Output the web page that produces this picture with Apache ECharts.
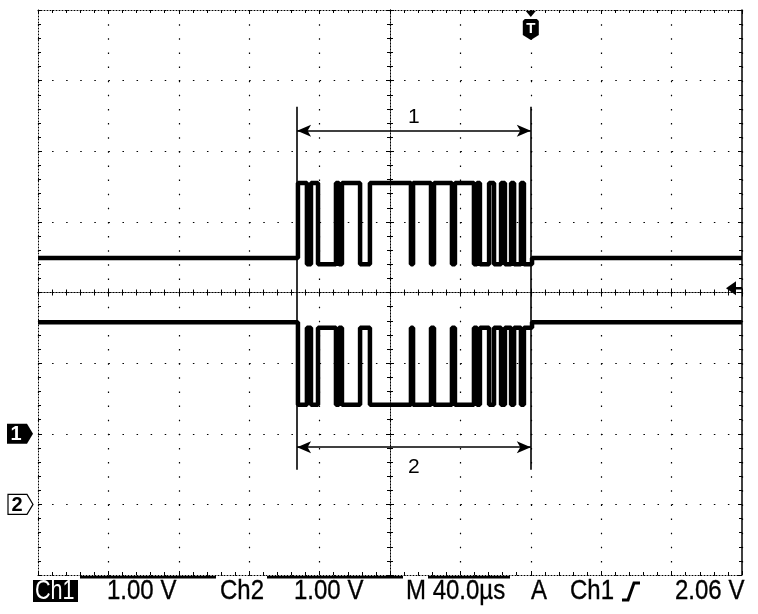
<!DOCTYPE html>
<html><head><meta charset="utf-8">
<script src="https://cdn.jsdelivr.net/npm/echarts@6/dist/echarts.min.js"></script>
<style>html,body{margin:0;padding:0;background:#fff}#c{width:758px;height:614px}</style>
</head><body><div id="c"></div>
<script>
// ---- data (time in µs relative to screen centre; trigger point sits at +80 µs) ----
const timeRange = [-200, 200];          // 10 div × 40 µs
const divRange = [-4, 4];               // 8 vertical divisions
const ch1GroundDiv = -2;                // position of Ch1 ground marker (div)
const ch2GroundDiv = -3;                // position of Ch2 ground marker (div)
const voltsPerDiv = [1.00, 1.00];       // Ch1, Ch2
const triggerTime = 80;                 // µs
const triggerLevel = 2.06;              // V on Ch1
// edge times of the data burst (Ch1 rises at the first edge; Ch2 is its complement)
const edgeTimes = [-52.3, -47.2, -44.9, -40.9, -30.7, -29.0, -27.3, -17.0, -11.4, 11.9,
                   13.1, 23.3, 25.0, 35.2, 36.9, 47.7, 49.4, 51.1, 56.3, 59.1,
                   63.1, 65.3, 68.8, 70.5, 74.4, 76.1];
const burstEnd = 80.7;
const ch1Levels = [2.49, 3.55, 2.40];   // idle, high, low (V)
const ch2Levels = [2.58, 2.50, 1.41];   // idle, high, low (V)
const cursorTimes = [-52.8, 80.0];      // cursor 1 / 2 (µs)
const cursorSpanDiv = [2.63, -2.51];
const arrowDiv = [2.29, -2.19];
const arrowLabels = ['1', '2'];
const readout = ['Ch1', '1.00 V', 'Ch2', '1.00 V', 'M 40.0µs', 'A', 'Ch1', '2.06 V'];

// ---- build traces ----
function trace(levels, ground, vpd, ch1Like) {
  const toDiv = v => v / vpd + ground;
  const pts = [[timeRange[0], toDiv(levels[0])]];
  let state = levels[0];
  edgeTimes.forEach((t, i) => {
    const next = (i % 2 === 0) ? (ch1Like ? levels[1] : levels[2]) : (ch1Like ? levels[2] : levels[1]);
    pts.push([t, toDiv(state)]); pts.push([t, toDiv(next)]); state = next;
  });
  pts.push([burstEnd, toDiv(state)]); pts.push([burstEnd, toDiv(levels[0])]);
  pts.push([timeRange[1], toDiv(levels[0])]);
  return pts;
}
const ch1Data = trace(ch1Levels, ch1GroundDiv, voltsPerDiv[0], true);
const ch2Data = trace(ch2Levels, ch2GroundDiv, voltsPerDiv[1], false);

const chart = echarts.init(document.getElementById('c'));
const BLACK = '#000';
function axis(kind, position, offset, opts) {
  const isX = kind === 'x';
  return {
    type: 'value', position: position, offset: offset,
    min: isX ? timeRange[0] : divRange[0], max: isX ? timeRange[1] : divRange[1],
    interval: isX ? 40 : 1,
    axisLine: { show: true, onZero: false, lineStyle: { color: BLACK, width: opts.lineWidth || 1, type: opts.lineType || [1, 2] } },
    axisTick: { show: true, inside: true, length: opts.tick || 4, lineStyle: { color: BLACK, width: 1 } },
    minorTick: { show: true, splitNumber: 5, length: opts.minor || 3, lineStyle: { color: BLACK, width: 1 } },
    axisLabel: { show: false },
    splitLine: opts.split ? { show: true, lineStyle: { color: BLACK, width: 1.2, type: opts.split } } : { show: false }
  };
}
const option = {
  animation: false,
  backgroundColor: '#fff',
  grid: { left: 38, top: 10, right: 16, bottom: 39 },
  xAxis: [
    axis('x', 'bottom', 0, { split: [1.5, 12.625] }),
    axis('x', 'top', 0, {}),
    axis('x', 'bottom', -282.5, { tick: 4, minor: 3 }),
    axis('x', 'top', -282.5, { tick: 4, minor: 3 })
  ],
  yAxis: [
    axis('y', 'left', 0, { split: [1.5, 12.58] }),
    axis('y', 'right', 0, { lineType: 'solid', lineWidth: 1.5 }),
    axis('y', 'left', -352, { tick: 4, minor: 3 }),
    axis('y', 'right', -352, { tick: 4, minor: 3 })
  ],
  series: [
    {
      name: 'Ch1', type: 'line', data: ch1Data, showSymbol: false, silent: true,
      lineStyle: { color: BLACK, width: 4.5 },
      markLine: {
        silent: true, symbol: 'none', animation: false,
        lineStyle: { color: BLACK, width: 1.6, type: 'solid' },
        label: { show: false },
        data: [
          [{ coord: [cursorTimes[0], cursorSpanDiv[0]] }, { coord: [cursorTimes[0], cursorSpanDiv[1]] }],
          [{ coord: [cursorTimes[1], cursorSpanDiv[0]] }, { coord: [cursorTimes[1], cursorSpanDiv[1]] }],
          [{ coord: [cursorTimes[0], arrowDiv[0]], symbol: 'arrow', symbolSize: [9, 14] },
           { coord: [cursorTimes[1], arrowDiv[0]], symbol: 'arrow', symbolSize: [9, 14],
             label: { show: true, position: 'middle', formatter: arrowLabels[0], color: BLACK, fontSize: 21, fontFamily: 'Liberation Sans', distance: 3 } }],
          [{ coord: [cursorTimes[0], arrowDiv[1]], symbol: 'arrow', symbolSize: [9, 14] },
           { coord: [cursorTimes[1], arrowDiv[1]], symbol: 'arrow', symbolSize: [9, 14],
             label: { show: true, position: 'insideMiddleBottom', formatter: arrowLabels[1], color: BLACK, fontSize: 21, fontFamily: 'Liberation Sans', distance: 10 } }]
        ]
      }
    },
    {
      name: 'Ch2', type: 'line', data: ch2Data, showSymbol: false, silent: true,
      lineStyle: { color: BLACK, width: 4.5 }
    }
  ]
};
chart.setOption(option);

const px = (t, d) => chart.convertToPixel({ xAxisIndex: 0, yAxisIndex: 0 }, [t, d]);
const y1 = px(0, ch1GroundDiv)[1];
const y2 = px(0, ch2GroundDiv)[1];
const tx = px(triggerTime, 0)[0];
const ty = px(0, triggerLevel / voltsPerDiv[0] + ch1GroundDiv)[1];
const topY = px(0, divRange[1])[1];
const rightX = px(timeRange[1], 0)[0];
const FONT = '24px "Liberation Sans", Arial, sans-serif';
const txt = (s, x, color) => ({ type: 'text', x: x, y: 591, z: 10, scaleY: 1.14, scaleX: color ? 0.9 : 1,
  style: color ? { text: s, font: FONT, fill: color, verticalAlign: 'middle' }
               : { text: s, font: FONT, fill: BLACK, verticalAlign: 'middle', stroke: BLACK, lineWidth: 0.3 } });
const graphic = [
  // channel markers
  { type: 'polygon', shape: { points: [[7, y1 - 10], [27, y1 - 10], [33, y1], [27, y1 + 10], [7, y1 + 10]] }, style: { fill: BLACK } },
  { type: 'text', x: 16, y: y1 + 1, style: { text: '1', font: 'bold 20px "Liberation Sans", Arial', fill: '#fff', align: 'center', verticalAlign: 'middle' } },
  { type: 'polygon', shape: { points: [[8, y2 - 10], [27, y2 - 10], [33, y2], [27, y2 + 10], [8, y2 + 10]] }, style: { fill: '#fff', stroke: BLACK, lineWidth: 1.2 } },
  { type: 'text', x: 17, y: y2 + 1, style: { text: '2', font: 'bold 20px "Liberation Sans", Arial', fill: BLACK, align: 'center', verticalAlign: 'middle' } },
  // trigger position marker
  { type: 'polygon', shape: { points: [[tx - 5, topY + 1], [tx + 5, topY + 1], [tx, topY + 7]] }, style: { fill: BLACK } },
  { type: 'polygon', shape: { points: [[tx - 6, topY + 9], [tx + 6, topY + 9], [tx + 8, topY + 11], [tx + 8, topY + 25], [tx, topY + 30], [tx - 8, topY + 25], [tx - 8, topY + 11]] }, style: { fill: BLACK } },
  { type: 'text', x: tx, y: topY + 19, style: { text: 'T', font: 'bold 15px "Liberation Sans", Arial', fill: '#fff', align: 'center', verticalAlign: 'middle' } },
  // trigger level arrow
  { type: 'polygon', shape: { points: [[rightX - 16, ty], [rightX - 6, ty - 7], [rightX - 6, ty + 7]] }, style: { fill: BLACK } },
  { type: 'line', shape: { x1: rightX - 7, y1: ty, x2: rightX, y2: ty }, style: { stroke: BLACK, lineWidth: 2.5 } },
  // readout separators under the graticule
  { type: 'rect', shape: { x: 80, y: 576, width: 136, height: 2.5 }, style: { fill: BLACK } },
  { type: 'rect', shape: { x: 267, y: 576, width: 136, height: 2.5 }, style: { fill: BLACK } },
  { type: 'rect', shape: { x: 428, y: 576, width: 82, height: 2.5 }, style: { fill: BLACK } },
  // readout
  { type: 'rect', shape: { x: 33, y: 580, width: 45, height: 22 }, style: { fill: BLACK } },
  txt(readout[0], 35, '#fff'),
  txt(readout[1], 107),
  txt(readout[2], 220),
  txt(readout[3], 294),
  txt(readout[4], 406),
  txt(readout[5], 531),
  txt(readout[6], 570),
  { type: 'polyline', shape: { points: [[622, 600], [628, 600], [634, 583], [640, 583]] }, style: { stroke: BLACK, lineWidth: 3, fill: null } },
  txt(readout[7], 675)
];
chart.setOption({ graphic: graphic });
</script></body></html>
